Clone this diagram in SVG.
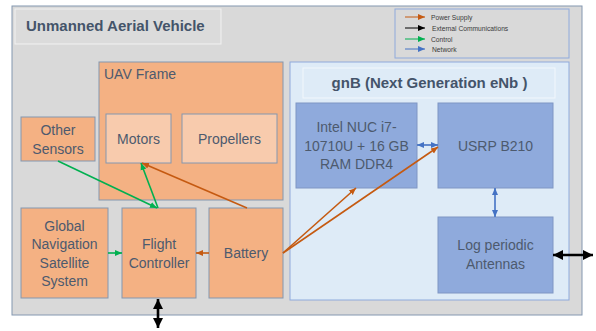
<svg xmlns="http://www.w3.org/2000/svg" width="596" height="331" viewBox="0 0 596 331">
<style>
.t{font-family:"Liberation Sans",Arial,sans-serif;font-size:14px;fill:#4d5a6e;text-anchor:middle}
.b{font-family:"Liberation Sans",Arial,sans-serif;font-weight:bold;font-size:15px;fill:#44546a}
.lg{font-family:"Liberation Sans",Arial,sans-serif;font-size:6.7px;fill:#3a3a3a}
.or{fill:#f4b183;stroke:#8497b0;stroke-width:1}
.lt{fill:#f8cbad;stroke:#8497b0;stroke-width:1}
.bl{fill:#8faadc;stroke:#7f96c4;stroke-width:1}
.c{fill:none;stroke-width:1.6}
</style>
<defs>
<marker id="ao" markerWidth="8" markerHeight="8" refX="7" refY="4" orient="auto-start-reverse" markerUnits="userSpaceOnUse"><path d="M0,1 L7,4 L0,7 Z" fill="#c55a11"/></marker>
<marker id="ag" markerWidth="8" markerHeight="8" refX="7" refY="4" orient="auto-start-reverse" markerUnits="userSpaceOnUse"><path d="M0,1 L7,4 L0,7 Z" fill="#00b050"/></marker>
<marker id="ab" markerWidth="8" markerHeight="8" refX="7" refY="4" orient="auto-start-reverse" markerUnits="userSpaceOnUse"><path d="M0,1 L7,4 L0,7 Z" fill="#4472c4"/></marker>
<marker id="ak" markerWidth="8" markerHeight="8" refX="7" refY="4" orient="auto-start-reverse" markerUnits="userSpaceOnUse"><path d="M0,1 L7,4 L0,7 Z" fill="#000"/></marker>
<marker id="akb" markerWidth="12" markerHeight="12" refX="10" refY="6" orient="auto-start-reverse" markerUnits="userSpaceOnUse"><path d="M0,1 L10,6 L0,11 Z" fill="#000"/></marker>
</defs>
<g id="uav">
<rect x="12" y="6" width="570" height="309" fill="#d9d9d9" stroke="#8497b0"/>
<rect x="15" y="9" width="206" height="35" fill="#dbdbdb" stroke="#f2f2f2"/>
<text class="b" x="26" y="31">Unmanned Aerial Vehicle</text>
</g>
<g id="legend">
<rect x="395" y="9" width="174" height="49" fill="#d9d9d9" stroke="#8faadc"/>
<line x1="405" y1="17" x2="425" y2="17" stroke="#c55a11" stroke-width="1" marker-end="url(#ao)"/>
<line x1="405" y1="28" x2="425" y2="28" stroke="#000" stroke-width="1" marker-end="url(#ak)"/>
<line x1="405" y1="39" x2="425" y2="39" stroke="#00b050" stroke-width="1" marker-end="url(#ag)"/>
<line x1="405" y1="49" x2="425" y2="49" stroke="#4472c4" stroke-width="1" marker-end="url(#ab)"/>
<text class="lg" x="431" y="19.5">Power Supply</text>
<text class="lg" x="432" y="30.5">External Communications</text>
<text class="lg" x="431" y="41.5">Control</text>
<text class="lg" x="432" y="51.5">Network</text>
</g>
<g id="uav-frame">
<rect class="or" x="99" y="62" width="184" height="138"/>
<text class="t" x="104" y="78.5" style="text-anchor:start">UAV Frame</text>
</g>
<g id="motors"><rect class="lt" x="106" y="114" width="65" height="49"/><text class="t" x="138.5" y="143.5">Motors</text></g>
<g id="propellers"><rect class="lt" x="182" y="114" width="95" height="49"/><text class="t" x="229.5" y="143.5">Propellers</text></g>
<g id="other-sensors"><rect class="or" x="21" y="117" width="74" height="44"/><text class="t" x="58" y="134.5">Other</text><text class="t" x="58" y="153.5">Sensors</text></g>
<g id="gnss"><rect class="or" x="21" y="208" width="87" height="90"/>
<text class="t" x="64.5" y="230.5">Global</text><text class="t" x="64.5" y="249">Navigation</text><text class="t" x="64.5" y="267.5">Satellite</text><text class="t" x="64.5" y="286">System</text></g>
<g id="flight-controller"><rect class="or" x="122" y="208" width="74" height="90"/><text class="t" x="159" y="249">Flight</text><text class="t" x="159" y="267.5">Controller</text></g>
<g id="battery"><rect class="or" x="209" y="208" width="74" height="90"/><text class="t" x="246" y="258">Battery</text></g>
<g id="gnb">
<rect x="290" y="62" width="279" height="238" fill="#deebf7" stroke="#8faadc"/>
<rect x="303" y="68" width="252" height="30" fill="#deebf7" stroke="#f2f7fc"/>
<text class="b" x="429.5" y="88" style="text-anchor:middle">gnB (Next Generation eNb )</text>
</g>
<g id="intel-nuc"><rect class="bl" x="296" y="103" width="121" height="85"/>
<text class="t" x="356.5" y="132">Intel NUC i7-</text><text class="t" x="356.5" y="150.5">10710U + 16 GB</text><text class="t" x="356.5" y="169">RAM DDR4</text></g>
<g id="usrp"><rect class="bl" x="438" y="103" width="115" height="85"/><text class="t" x="495.5" y="150.5">USRP B210</text></g>
<g id="antennas"><rect class="bl" x="438" y="217" width="115" height="76"/><text class="t" x="495.5" y="250">Log periodic</text><text class="t" x="495.5" y="268.5">Antennas</text></g>
<g id="connectors">
<line class="c" x1="58" y1="161" x2="157" y2="208" stroke="#00b050" marker-end="url(#ag)"/>
<line class="c" x1="158" y1="208" x2="141" y2="163" stroke="#00b050" marker-end="url(#ag)"/>
<line class="c" x1="247" y1="208" x2="142" y2="163" stroke="#c55a11" marker-end="url(#ao)"/>
<line class="c" x1="108" y1="253" x2="122" y2="253" stroke="#00b050" marker-end="url(#ag)"/>
<line class="c" x1="209" y1="253" x2="196" y2="253" stroke="#c55a11" marker-end="url(#ao)"/>
<line class="c" x1="283" y1="253" x2="356" y2="188" stroke="#c55a11" marker-end="url(#ao)"/>
<line class="c" x1="283" y1="253" x2="438" y2="147" stroke="#c55a11" marker-end="url(#ao)"/>
<line class="c" x1="417" y1="145" x2="438" y2="145" stroke="#4472c4" marker-start="url(#ab)" marker-end="url(#ab)"/>
<line class="c" x1="495" y1="188" x2="495" y2="217" stroke="#4472c4" marker-start="url(#ab)" marker-end="url(#ab)"/>
<line x1="553" y1="255" x2="593" y2="255" stroke="#000" stroke-width="2.6" marker-start="url(#akb)" marker-end="url(#akb)"/>
<line x1="158" y1="299" x2="158" y2="328" stroke="#000" stroke-width="2.6" marker-start="url(#akb)" marker-end="url(#akb)"/>
</g>
</svg>
